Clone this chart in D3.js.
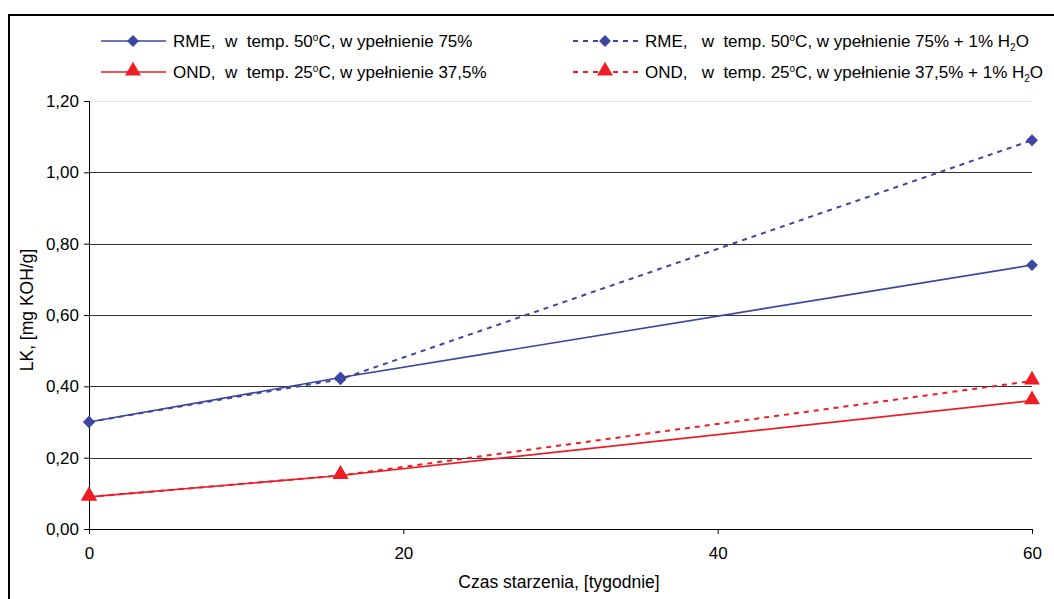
<!DOCTYPE html>
<html>
<head>
<meta charset="utf-8">
<script src="https://cdn.jsdelivr.net/npm/d3@7"></script>
<style>
  body { margin: 0; background: #fff; }
  text { font-family: "Liberation Sans", Arial, sans-serif; fill: #000; }
</style>
</head>
<body>
<div class="chart"></div>
<script>
const weeks = [0, 16, 60];
const rme = [0.30, 0.425, 0.74];
const rmeWater = [0.30, 0.42, 1.09];
const ond = [0.09, 0.15, 0.36];
const ondWater = [0.09, 0.15, 0.415];
const xTicks = [0, 20, 40, 60];
const yTicks = [0, 0.2, 0.4, 0.6, 0.8, 1.0, 1.2];

const svgWidth = 1054;
const svgHeight = 599;
const blue = '#3c46a0';
const red = '#ee1c25';

const series = [
    { name: 'RME,  w  temp. 50', sup: 'o', rest: 'C, w ypełnienie 75%', water: false, values: rme, color: blue, shape: 'diamond', dashed: false, lx: 101, ly: 41 },
    { name: 'OND,  w  temp. 25', sup: 'o', rest: 'C, w ypełnienie 37,5%', water: false, values: ond, color: red, shape: 'triangle', dashed: false, lx: 101, ly: 72 },
    { name: 'RME,   w  temp. 50', sup: 'o', rest: 'C, w ypełnienie 75% + 1% H', water: true, values: rmeWater, color: blue, shape: 'diamond', dashed: true, lx: 573, ly: 41 },
    { name: 'OND,   w  temp. 25', sup: 'o', rest: 'C, w ypełnienie 37,5% + 1% H', water: true, values: ondWater, color: red, shape: 'triangle', dashed: true, lx: 573, ly: 72 }
];

const xScale = d3.scaleLinear().domain([0, 60]).range([89, 1032]);
const yScale = d3.scaleLinear().domain([0, 1.2]).range([529, 101]);

const svg = d3
    .select('.chart')
    .append('svg')
    .attr('width', svgWidth)
    .attr('height', svgHeight);

// chart frame (runs past the window on the right and bottom)
svg.append('rect')
    .attr('x', 9)
    .attr('y', 15)
    .attr('width', 1200)
    .attr('height', 800)
    .attr('fill', 'none')
    .attr('stroke', '#000')
    .attr('stroke-width', 2);

// gridlines
svg.append('g')
    .selectAll('line')
    .data(yTicks.filter((d) => d > 0))
    .join('line')
    .attr('x1', xScale(0))
    .attr('x2', xScale(60))
    .attr('y1', (d) => Math.round(yScale(d)) + 0.5)
    .attr('y2', (d) => Math.round(yScale(d)) + 0.5)
    .attr('stroke', (d) => (d === 1.2 ? '#e4e4e4' : '#333'))
    .attr('stroke-width', 1);

// axes
const yAxis = d3.axisLeft(yScale)
    .tickValues(yTicks)
    .tickSize(5)
    .tickPadding(5)
    .tickFormat((d) => d3.format('.2f')(d).replace('.', ','));
const yG = svg.append('g').attr('transform', `translate(${xScale(0)},0)`).call(yAxis);

const xAxis = d3.axisBottom(xScale)
    .tickValues(xTicks)
    .tickSize(5)
    .tickPadding(13)
    .tickFormat(d3.format('d'));
const xG = svg.append('g').attr('transform', `translate(0,${yScale(0)})`).call(xAxis);

[yG, xG].forEach((g) => {
    g.select('.domain').attr('stroke', '#000');
    g.selectAll('.tick line').attr('stroke', '#000');
    g.selectAll('.tick text')
        .attr('font-family', '"Liberation Sans", Arial, sans-serif')
        .attr('font-size', 17)
        .attr('fill', '#000');
});
xG.select('.domain').attr('d', `M${xScale(0)},0.5H${xScale(60)}`);

// axis titles
svg.append('text')
    .attr('x', 559)
    .attr('y', 588)
    .attr('text-anchor', 'middle')
    .attr('font-size', 17.5)
    .text('Czas starzenia, [tygodnie]');

svg.append('text')
    .attr('transform', 'translate(33,310) rotate(-90)')
    .attr('text-anchor', 'middle')
    .attr('font-size', 17.5)
    .text('LK, [mg KOH/g]');

// marker drawing
const diamond = d3.symbol().type(d3.symbolDiamond2).size(90);
const triangle = d3.symbol().type(d3.symbolTriangle).size(110);
function markerPath(shape) {
    return shape === 'diamond' ? diamond() : triangle();
}

const line = d3.line()
    .x((d) => xScale(d[0]))
    .y((d) => yScale(d[1]));

// series lines and markers
series.forEach((s) => {
    const pts = weeks.map((w, i) => [w, s.values[i]]);
    svg.append('path')
        .datum(pts)
        .attr('d', line)
        .attr('fill', 'none')
        .attr('stroke', s.color)
        .attr('stroke-width', s.dashed ? 2 : 1.6)
        .attr('stroke-dasharray', s.dashed ? '5,5' : null);

    svg.append('g')
        .selectAll('path')
        .data(pts)
        .join('path')
        .attr('d', markerPath(s.shape))
        .attr('transform', (d) => `translate(${xScale(d[0])},${yScale(d[1]) - (s.shape === 'triangle' ? 1 : 0)})`)
        .attr('fill', s.color);
});

// legend
const legend = svg.append('g')
    .selectAll('g')
    .data(series)
    .join('g')
    .attr('transform', (d) => `translate(${d.lx},${d.ly})`);

legend.append('line')
    .attr('x1', 0)
    .attr('x2', 65)
    .attr('stroke', (d) => d.color)
    .attr('stroke-width', (d) => (d.dashed ? 2 : 1.6))
    .attr('stroke-dasharray', (d) => (d.dashed ? '5,5' : null));

legend.append('path')
    .attr('d', (d) => markerPath(d.shape))
    .attr('transform', (d) => `translate(32,${d.shape === 'triangle' ? -1 : 0})`)
    .attr('fill', (d) => d.color);

const label = legend.append('text')
    .attr('x', (d) => (d.dashed ? 72 : 72))
    .attr('y', 6)
    .attr('font-size', 17)
    .attr('xml:space', 'preserve')
    .style('white-space', 'pre');

label.append('tspan').text((d) => d.name);
label.append('tspan').attr('font-size', 10).attr('dy', -6).text((d) => d.sup);
label.append('tspan').attr('dy', 6).text((d) => d.rest);
label.filter((d) => d.water).append('tspan').attr('font-size', 10).attr('dy', 4).text('2');
label.filter((d) => d.water).append('tspan').attr('dy', -4).text('O');
</script>
</body>
</html>
